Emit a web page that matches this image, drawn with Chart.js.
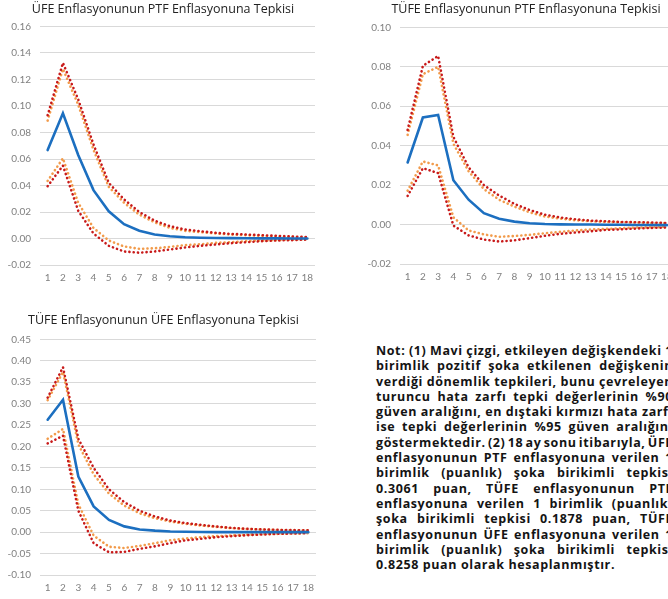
<!DOCTYPE html>
<html><head><meta charset="utf-8">
<script src="https://cdn.jsdelivr.net/npm/chart.js@4.4.1/dist/chart.umd.min.js"></script>
<style>
html,body{margin:0;padding:0;background:#fff;width:668px;height:599px;overflow:hidden;position:relative;}
.box{position:absolute;}
.ttl{position:absolute;width:400px;text-align:center;font-family:'Open Sans',sans-serif;font-size:12.5px;line-height:18px;color:#222;white-space:nowrap;}
#note{position:absolute;left:376px;top:343px;width:297px;font-family:'Open Sans',sans-serif;font-weight:700;font-size:12.5px;letter-spacing:0.6px;line-height:15.3px;color:#141414;}
#note .ln{display:flex;justify-content:space-between;white-space:nowrap;}
#note .last{white-space:nowrap;}
</style></head>
<body>
<div class="box" style="left:0;top:0;"><canvas id="c1" width="326" height="285"></canvas></div>
<div class="box" style="left:360px;top:0;"><canvas id="c2" width="332" height="284"></canvas></div>
<div class="box" style="left:0;top:310px;"><canvas id="c3" width="327" height="285"></canvas></div>
<div class="ttl" id="t1" style="left:-37px;top:0px;"></div>
<div class="ttl" id="t2" style="left:326px;top:0px;"></div>
<div class="ttl" id="t3" style="left:-36.5px;top:311px;"></div>
<div id="note"></div>
<script>
// categories (months)
const months = ['1','2','3','4','5','6','7','8','9','10','11','12','13','14','15','16','17','18'];

// Panel 1: ÜFE Enflasyonunun PTF Enflasyonuna Tepkisi
const ufePtfResp  = [0.0667,0.0945,0.063,0.0365,0.0205,0.0108,0.0058,0.003,0.0017,0.001,0.0006,0.0004,0.0003,0.0002,0.0001,0.0001,0.0,0.0];
const ufePtfUp95  = [0.093,0.1325,0.105,0.071,0.042,0.0295,0.020,0.0135,0.0093,0.0068,0.0055,0.0043,0.0035,0.003,0.0025,0.002,0.0015,0.001];
const ufePtfUp90  = [0.089,0.128,0.101,0.067,0.039,0.027,0.018,0.0122,0.008,0.0058,0.0048,0.0038,0.003,0.0025,0.002,0.0015,0.0012,0.0008];
const ufePtfLo90  = [0.0435,0.0605,0.027,0.008,-0.0015,-0.006,-0.0078,-0.0074,-0.0063,-0.005,-0.0043,-0.0033,-0.0028,-0.002,-0.0015,-0.0012,-0.0008,-0.0004];
const ufePtfLo95  = [0.0395,0.055,0.021,0.0038,-0.0055,-0.0098,-0.0107,-0.0098,-0.0083,-0.0068,-0.0055,-0.0045,-0.0035,-0.0028,-0.002,-0.0015,-0.0012,-0.0008];

// Panel 2: TÜFE Enflasyonunun PTF Enflasyonuna Tepkisi
const tufePtfResp = [0.0315,0.0543,0.0556,0.0225,0.0126,0.0058,0.003,0.0015,0.0007,0.0003,0.0001,0,0,-0.0001,-0.0001,-0.0002,-0.0002,-0.0003];
const tufePtfUp95 = [0.048,0.0805,0.0855,0.0445,0.029,0.020,0.0147,0.0105,0.0074,0.005,0.0036,0.0027,0.002,0.0017,0.0013,0.0012,0.001,0.0008];
const tufePtfUp90 = [0.0455,0.0763,0.080,0.041,0.027,0.018,0.0126,0.0091,0.0062,0.0041,0.003,0.0022,0.0017,0.0013,0.0012,0.001,0.0008,0.0007];
const tufePtfLo90 = [0.0172,0.032,0.030,0.0037,-0.003,-0.005,-0.0062,-0.0058,-0.0052,-0.0044,-0.0037,-0.003,-0.0025,-0.0022,-0.0019,-0.0015,-0.0014,-0.0012];
const tufePtfLo95 = [0.0145,0.0286,0.0261,-0.0005,-0.0055,-0.0076,-0.0086,-0.008,-0.0069,-0.0057,-0.0047,-0.004,-0.0034,-0.0027,-0.0024,-0.002,-0.0017,-0.0015];

// Panel 3: TÜFE Enflasyonunun ÜFE Enflasyonuna Tepkisi
const tufeUfeResp = [0.2625,0.309,0.13,0.06,0.0287,0.0135,0.0062,0.0035,0.0016,0.0008,0.0004,0.0002,0.0001,0,0,0,0,0];
const tufeUfeUp95 = [0.314,0.385,0.218,0.15,0.10,0.07,0.05,0.0365,0.027,0.021,0.017,0.0132,0.010,0.0078,0.0062,0.0054,0.0047,0.0042];
const tufeUfeUp90 = [0.308,0.374,0.205,0.135,0.09,0.062,0.044,0.0326,0.0248,0.0194,0.0155,0.0124,0.0093,0.0075,0.006,0.005,0.0042,0.0035];
const tufeUfeLo90 = [0.218,0.241,0.065,-0.008,-0.034,-0.037,-0.032,-0.0256,-0.019,-0.0148,-0.0116,-0.0093,-0.0078,-0.0062,-0.0047,-0.0039,-0.0031,-0.0023];
const tufeUfeLo95 = [0.207,0.225,0.05,-0.026,-0.047,-0.046,-0.039,-0.033,-0.0256,-0.019,-0.0155,-0.0116,-0.0093,-0.007,-0.0054,-0.0039,-0.0031,-0.0023];

// axis ranges [min, max, step]
const axis1 = [-0.02, 0.16, 0.02];
const axis2 = [-0.02, 0.10, 0.02];
const axis3 = [-0.10, 0.45, 0.05];

const titles = [
  'ÜFE Enflasyonunun PTF Enflasyonuna Tepkisi',
  'TÜFE Enflasyonunun PTF Enflasyonuna Tepkisi',
  'TÜFE Enflasyonunun ÜFE Enflasyonuna Tepkisi'
];

const noteLines = [
  'Not: (1) Mavi çizgi, etkileyen değişkendeki 1',
  'birimlik pozitif şoka etkilenen değişkenin',
  'verdiği dönemlik tepkileri, bunu çevreleyen',
  'turuncu hata zarfı tepki değerlerinin %90',
  'güven aralığını, en dıştaki kırmızı hata zarfı',
  'ise tepki değerlerinin %95 güven aralığını',
  'göstermektedir. (2) 18 ay sonu itibarıyla, ÜFE',
  'enflasyonunun PTF enflasyonuna verilen 1',
  'birimlik (puanlık) şoka birikimli tepkisi',
  '0.3061 puan, TÜFE enflasyonunun PTF',
  'enflasyonuna verilen 1 birimlik (puanlık)',
  'şoka birikimli tepkisi 0.1878 puan, TÜFE',
  'enflasyonunun ÜFE enflasyonuna verilen 1',
  'birimlik (puanlık) şoka birikimli tepkisi',
  '0.8258 puan olarak hesaplanmıştır.'
];

const BLUE = '#1c6fc0', ORANGE = '#f29b4b', RED = '#c81a1a';
const tickFont = {family: 'Lato', size: 10};
const tickColor = '#808080';

function dotted(data, color) {
  return {data, borderColor: color, borderWidth: 2.6, borderDash: [0.1, 4.2], borderCapStyle: 'round',
          pointRadius: 0, fill: false, tension: 0};
}

function makeChart(id, resp, up95, up90, lo90, lo95, ax, pad) {
  new Chart(document.getElementById(id), {
    type: 'line',
    data: {
      labels: months,
      datasets: [
        {data: resp, borderColor: BLUE, borderWidth: 2.6, pointRadius: 0, fill: false, tension: 0, borderCapStyle: 'round'},
        dotted(up95, RED), dotted(lo95, RED),
        dotted(up90, ORANGE), dotted(lo90, ORANGE)
      ]
    },
    options: {
      responsive: false, animation: false, devicePixelRatio: 1,
      layout: {padding: {left: 0, right: pad.right, top: pad.top, bottom: 0}},
      plugins: {legend: {display: false}, tooltip: {enabled: false}, title: {display: false}},
      scales: {
        x: {offset: true, grid: {display: false, drawTicks: false}, border: {display: false},
            ticks: {font: tickFont, color: tickColor, padding: 7, maxRotation: 0, autoSkip: false},
            afterFit: s => { s.height = 20; }},
        y: {min: ax[0], max: ax[1],
            ticks: {stepSize: ax[2], font: tickFont, color: tickColor, padding: 9,
                    callback: v => Number(v).toFixed(2)},
            grid: {color: '#d9d9d9', lineWidth: 1, drawTicks: false}, border: {display: false},
            afterFit: s => { s.width = 40; }}
      }
    }
  });
}

makeChart('c1', ufePtfResp, ufePtfUp95, ufePtfUp90, ufePtfLo90, ufePtfLo95, axis1, {right: 11, top: 26.5});
makeChart('c2', tufePtfResp, tufePtfUp95, tufePtfUp90, tufePtfLo90, tufePtfLo95, axis2, {right: 17.5, top: 27.4});
makeChart('c3', tufeUfeResp, tufeUfeUp95, tufeUfeUp90, tufeUfeLo90, tufeUfeLo95, axis3, {right: 11, top: 29.4});

['t1','t2','t3'].forEach((id, i) => { document.getElementById(id).textContent = titles[i]; });

const note = document.getElementById('note');
noteLines.forEach((line, i) => {
  const d = document.createElement('div');
  if (i < noteLines.length - 1) {
    d.className = 'ln';
    line.split(' ').forEach(w => { const s = document.createElement('span'); s.textContent = w; d.appendChild(s); });
  } else {
    d.className = 'last';
    d.textContent = line;
  }
  note.appendChild(d);
});
</script>
</body></html>
